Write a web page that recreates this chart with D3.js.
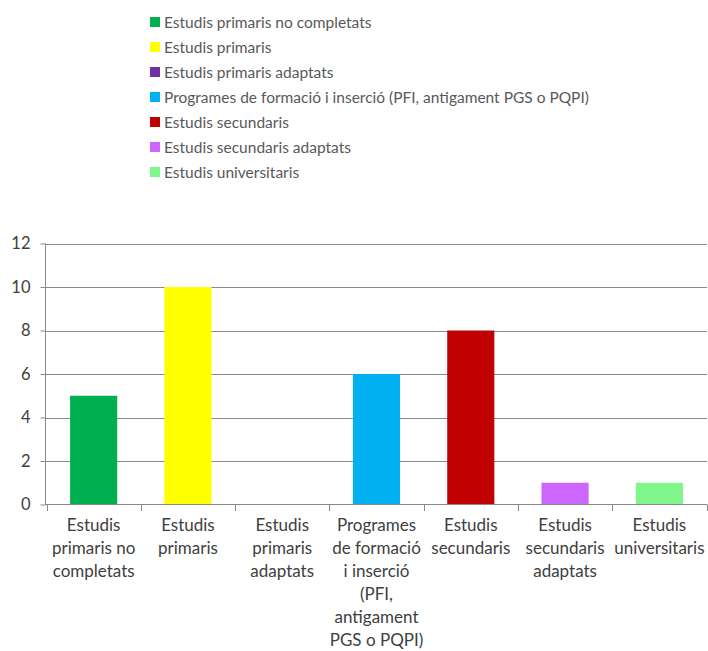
<!DOCTYPE html>
<html><head><meta charset="utf-8">
<script src="https://cdn.jsdelivr.net/npm/d3@7"></script>
<style>
body{margin:0;background:#fff;}
text{font-family:"Lato","Open Sans",sans-serif;}
</style></head>
<body><svg id="c" width="708" height="651"></svg>
<script>
const categories = ["Estudis primaris no completats","Estudis primaris","Estudis primaris adaptats","Programes de formació i inserció (PFI, antigament PGS o PQPI)","Estudis secundaris","Estudis secundaris adaptats","Estudis universitaris"];
const values = [5,10,0,6,8,1,1];
const colors = ["#00B050","#FFFF00","#7030A0","#00B0F0","#C00000","#CC66FF","#80F58A"];
const tickLabels = [["Estudis","primaris no","completats"],["Estudis","primaris"],["Estudis","primaris","adaptats"],["Programes","de formació","i inserció","(PFI,","antigament","PGS o PQPI)"],["Estudis","secundaris"],["Estudis","secundaris","adaptats"],["Estudis","universitaris"]];
const yTicks = [0,2,4,6,8,10,12];

const svg = d3.select("#c");
const x = d3.scaleBand().domain(categories).range([46.5,706.5]).paddingInner(0.5).paddingOuter(0.25);
const xb = d3.scaleBand().domain(categories).range([46.5,706.5]);
const y = d3.scaleLinear().domain([0,12]).range([504.5,243.5]);

// gridlines
svg.append("g").selectAll("line").data(yTicks.slice(1)).join("line")
  .attr("x1",45.5).attr("x2",707).attr("y1",d=>Math.round(y(d))+0.5).attr("y2",d=>Math.round(y(d))+0.5)
  .attr("stroke","#898989").attr("stroke-width",1);

// bars
svg.append("g").selectAll("rect").data(values).join("rect")
  .attr("x",(d,i)=>x(categories[i])).attr("width",x.bandwidth())
  .attr("y",d=>y(d)).attr("height",d=>y(0)-y(d))
  .attr("fill",(d,i)=>colors[i]);

// y axis
const ya = d3.axisLeft(y).tickValues(yTicks).tickSize(5).tickPadding(10);
const gy = svg.append("g").attr("transform","translate(45.5,0)").call(ya);
gy.select(".domain").attr("stroke","#898989").attr("d","M0,243.5V504.5");
gy.selectAll(".tick line").attr("stroke","#898989");
gy.selectAll(".tick text").attr("font-size",16.5).attr("fill","#404040").style("font-family","Lato, sans-serif");

// x axis
const xa = d3.axisBottom(xb).tickSize(0).tickFormat("");
const gx = svg.append("g").attr("transform","translate(0,504.5)").call(xa);
gx.select(".domain").attr("stroke","#898989").attr("d","M45,0H707");
const bounds = categories.map(c=>xb(c)).concat([xb.range()[1]]);
svg.append("g").selectAll("line").data(bounds).join("line")
  .attr("x1",d=>Math.round(d)+0.5).attr("x2",d=>Math.round(d)+0.5).attr("y1",504.5).attr("y2",511)
  .attr("stroke","#898989");
const lab = svg.append("g");
categories.forEach((c,i)=>{
  const cx = xb(c)+xb.bandwidth()/2;
  const t = lab.append("text").attr("x",cx).attr("y",531)
    .attr("text-anchor","middle").attr("font-size",17).attr("fill","#404040");
  tickLabels[i].forEach((l,j)=>t.append("tspan").attr("x",cx).attr("dy",j?23:0).text(l));
});

// legend
const lg = svg.append("g");
categories.forEach((c,i)=>{
  const yy = 22 + i*25;
  lg.append("rect").attr("x",150).attr("y",yy-5).attr("width",10).attr("height",10).attr("fill",colors[i]);
  lg.append("text").attr("x",164).attr("y",yy+5.5).attr("font-size",15.5).attr("fill","#595959").text(c);
});
</script></body></html>
